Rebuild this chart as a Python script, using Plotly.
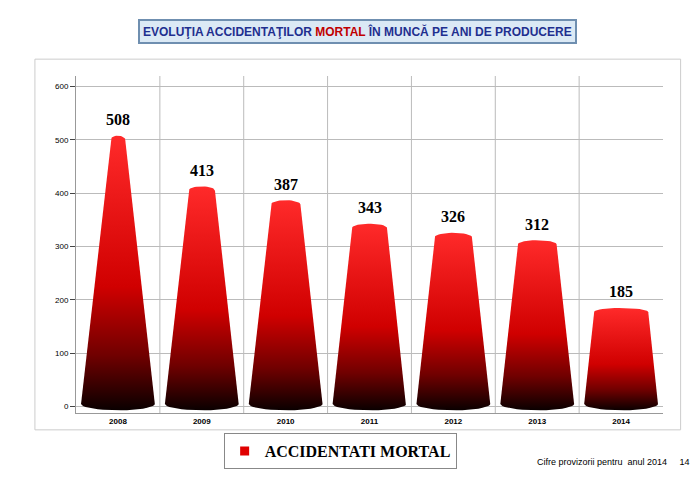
import plotly.graph_objects as go
import numpy as np

years = ["2008", "2009", "2010", "2011", "2012", "2013", "2014"]
values = [508, 413, 387, 343, 326, 312, 185]

fig = go.Figure()
base_w = 0.44
H = 600
for i, (yr, v) in enumerate(zip(years, values)):
    top_w = base_w * (1 - v / H) + 0.02
    xb = list(i + base_w*np.cos(np.linspace(0, np.pi, 20)))
    yb = list(-12*np.sin(np.linspace(0, np.pi, 20)) + 5)
    xtop = list(i + top_w*np.cos(np.linspace(np.pi, 0, 20)))
    ytop = list(v - 8 + 8*np.sin(np.linspace(np.pi, 0, 20)))
    X = [i - base_w] + xtop + [i + base_w] + xb
    Y = [5] + ytop + [5] + yb
    fig.add_trace(go.Scatter(
        x=X, y=Y, fill="toself", mode="lines", line=dict(width=0),
        fillgradient=dict(type="vertical",
                          colorscale=[[0, "#0a0000"], [0.2, "#700000"], [0.45, "#d00000"], [1, "#ff2a2a"]]),
        hoverinfo="skip", showlegend=False))
    fig.add_annotation(x=i, y=v, text="<b>" + str(v) + "</b>", showarrow=False, yshift=16,
                       font=dict(family="Liberation Serif", size=16, color="black"))

fig.add_trace(go.Scatter(x=[None], y=[None], mode="markers",
                         marker=dict(symbol="square", color="#e00000", size=9),
                         name="<b>ACCIDENTATI MORTAL</b>"))

fig.update_layout(
    width=700, height=488, paper_bgcolor="white", plot_bgcolor="white",
    margin=dict(l=68, r=45, t=68, b=83),
    xaxis=dict(range=[-0.5, 6.5], tickmode="array", tickvals=list(range(7)), ticktext=["<b>%s</b>" % y for y in years],
               showgrid=False, zeroline=False, showline=True, linecolor="#999",
               tickfont=dict(family="Liberation Sans", size=8, color="black")),
    yaxis=dict(range=[-12, 620], tickvals=[0, 100, 200, 300, 400, 500, 600], showgrid=True,
               gridcolor="#bbb", zeroline=False, showline=True, linecolor="#999", ticks="outside",
               tickfont=dict(family="Liberation Sans", size=8, color="black")),
    legend=dict(x=0.45, xanchor="center", y=-0.06, yanchor="top", orientation="h",
                bordercolor="#888", borderwidth=1,
                font=dict(family="Liberation Serif", size=16, color="black")),
    shapes=[dict(type="line", xref="x", yref="paper", x0=k + 0.5, x1=k + 0.5, y0=0, y1=1,
                 line=dict(color="#bbb", width=1), layer="below") for k in range(6)] +
           [dict(type="rect", xref="paper", yref="paper", x0=-0.07, x1=1.03, y0=-0.05, y1=1.05,
                 line=dict(color="#ccc", width=1), layer="below")],
)
fig.add_annotation(xref="paper", yref="paper", x=0.48, y=1.17, showarrow=False,
                   text="<b>EVOLUŢIA ACCIDENTAŢILOR <span style='color:#c00000'>MORTAL</span> ÎN MUNCĂ PE ANI DE PRODUCERE</b>",
                   font=dict(family="Liberation Sans", size=12, color="#1f2f8f"),
                   bgcolor="#dbe9f5", bordercolor="#6f8fb0", borderwidth=2, borderpad=3)
fig.add_annotation(xref="paper", yref="paper", x=1.05, y=-0.165, showarrow=False, xanchor="right",
                   text="Cifre provizorii pentru  anul 2014     14",
                   font=dict(family="Liberation Sans", size=9, color="black"))
fig.write_html("out.html")
